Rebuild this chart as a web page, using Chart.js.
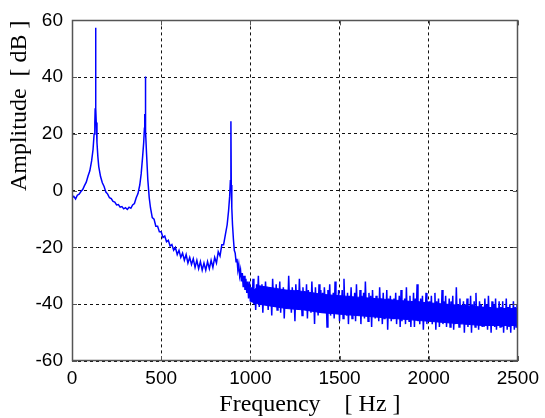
<!DOCTYPE html>
<html>
<head>
<meta charset="utf-8">
<script src="https://cdn.jsdelivr.net/npm/chart.js@4/dist/chart.umd.min.js"></script>
<style>
  html, body { margin: 0; padding: 0; background: #fff; }
  #wrap { width: 545px; height: 418px; }
</style>
</head>
<body>
<div id="wrap"><canvas id="chart-spectrum"></canvas></div>
<script>
// Amplitude spectrum, values
// 0 - 1000 Hz: the three resonance peaks
const lowFreq = [
  0, 10, 20, 30, 40, 50, 60, 70, 80, 90, 100, 110, 118, 124, 128, 130, 132, 133, 134, 136,
  140, 145, 150, 160, 170, 180, 190, 200, 210, 220, 230, 240, 250, 260, 270, 280, 290, 300,
  310, 320, 330, 340, 350, 360, 370, 380, 388, 396, 402, 406, 408, 410, 411, 412, 414, 418,
  425, 433, 440, 450, 460, 470, 480, 490, 500, 510, 520, 530, 540, 550, 560, 570, 580, 590,
  600, 610, 620, 630, 640, 650, 660, 670, 680, 690, 700, 710, 720, 730, 740, 750, 760, 770,
  780, 790, 800, 810, 820, 830, 840, 850, 860, 870, 878, 884, 888, 891, 893, 896, 900, 905,
  910, 915, 920, 925, 930, 935, 940, 945, 950, 955, 960, 965, 970, 975, 980, 985, 990, 995, 1000
];
const lowAmp = [
  -2.5, -2.0, -2.9, -1.6, -1.2, -0.3, 0.4, 1.8, 3.0, 5.2, 7.0, 10.5, 14.5, 20, 24, 29, 26, 57.4, 29, 24,
  17, 12, 8.5, 5, 2.8, 1.5, -0.5, -1.2, -2.5, -2.8, -3.8, -4, -5, -4.9, -5.8, -5.6, -6.4, -6,
  -6.6, -5.8, -6.2, -5, -4.5, -2.5, -1, 2, 6, 12, 17, 22, 27, 26, 40.2, 28, 21, 13,
  4, -2.5, -6, -9.5, -10, -12.5, -12.5, -14.5, -14.5, -16.5, -16, -18, -17.5, -19.5, -19, -21, -20, -22.5,
  -21, -23.5, -22, -24.5, -22.5, -25.5, -23.5, -26, -24, -27, -24.5, -27.5, -25, -28, -25.5, -28, -25, -27.5,
  -24.5, -27, -23.5, -25.5, -21.5, -23, -19, -19, -15.5, -12, -7, -2, 3.5, 24.5, 2, -6, -12, -17,
  -21, -22, -25, -24, -28, -26, -30, -28, -32, -29, -34, -30, -35, -31, -36, -32, -38, -32, -39
];

// 1000 - 2500 Hz: noise floor
const bandFreq = [
  1005, 1010, 1015, 1020, 1025, 1030, 1035, 1040, 1045, 1050, 1055, 1060, 1065, 1070, 1075, 1080, 1085, 1090, 1095, 1100,
  1105, 1110, 1115, 1120, 1125, 1130, 1135, 1140, 1145, 1150, 1155, 1160, 1165, 1170, 1175, 1180, 1185, 1190, 1195, 1200,
  1205, 1210, 1215, 1220, 1225, 1230, 1235, 1240, 1245, 1250, 1255, 1260, 1265, 1270, 1275, 1280, 1285, 1290, 1295, 1300,
  1305, 1310, 1315, 1320, 1325, 1330, 1335, 1340, 1345, 1350, 1355, 1360, 1365, 1370, 1375, 1380, 1385, 1390, 1395, 1400,
  1405, 1410, 1415, 1420, 1425, 1430, 1435, 1440, 1445, 1450, 1455, 1460, 1465, 1470, 1475, 1480, 1485, 1490, 1495, 1500,
  1505, 1510, 1515, 1520, 1525, 1530, 1535, 1540, 1545, 1550, 1555, 1560, 1565, 1570, 1575, 1580, 1585, 1590, 1595, 1600,
  1605, 1610, 1615, 1620, 1625, 1630, 1635, 1640, 1645, 1650, 1655, 1660, 1665, 1670, 1675, 1680, 1685, 1690, 1695, 1700,
  1705, 1710, 1715, 1720, 1725, 1730, 1735, 1740, 1745, 1750, 1755, 1760, 1765, 1770, 1775, 1780, 1785, 1790, 1795, 1800,
  1805, 1810, 1815, 1820, 1825, 1830, 1835, 1840, 1845, 1850, 1855, 1860, 1865, 1870, 1875, 1880, 1885, 1890, 1895, 1900,
  1905, 1910, 1915, 1920, 1925, 1930, 1935, 1940, 1945, 1950, 1955, 1960, 1965, 1970, 1975, 1980, 1985, 1990, 1995, 2000,
  2005, 2010, 2015, 2020, 2025, 2030, 2035, 2040, 2045, 2050, 2055, 2060, 2065, 2070, 2075, 2080, 2085, 2090, 2095, 2100,
  2105, 2110, 2115, 2120, 2125, 2130, 2135, 2140, 2145, 2150, 2155, 2160, 2165, 2170, 2175, 2180, 2185, 2190, 2195, 2200,
  2205, 2210, 2215, 2220, 2225, 2230, 2235, 2240, 2245, 2250, 2255, 2260, 2265, 2270, 2275, 2280, 2285, 2290, 2295, 2300,
  2305, 2310, 2315, 2320, 2325, 2330, 2335, 2340, 2345, 2350, 2355, 2360, 2365, 2370, 2375, 2380, 2385, 2390, 2395, 2400,
  2405, 2410, 2415, 2420, 2425, 2430, 2435, 2440, 2445, 2450, 2455, 2460, 2465, 2470, 2475, 2480, 2485, 2490, 2495, 2500
];
const bandAmp = [
  -34, -39, -31, -40, -35, -42, -33, -38, -30, -41, -36, -39, -33, -43, -35, -40, -32, -38, -36, -42,
  -34, -40, -35, -44, -31, -39, -36, -41, -33, -42, -37, -40, -32, -43, -35, -39, -34, -45, -36, -41,
  -35, -41, -30, -40, -36, -43, -34, -39, -37, -46, -33, -41, -35, -42, -31, -40, -36, -44, -34, -41,
  -36, -42, -33, -45, -35, -40, -37, -43, -32, -41, -36, -47, -34, -42, -37, -44, -33, -41, -35, -43,
  -36, -43, -34, -41, -37, -48, -35, -42, -33, -44, -38, -42, -36, -45, -32, -43, -37, -41, -35, -46,
  -37, -43, -35, -45, -31, -42, -38, -44, -36, -47, -37, -42, -34, -45, -38, -43, -36, -46, -33, -44,
  -38, -44, -35, -47, -37, -43, -36, -45, -32, -42, -38, -46, -36, -44, -37, -48, -35, -43, -38, -45,
  -37, -44, -39, -46, -34, -43, -38, -47, -36, -45, -39, -44, -35, -49, -38, -43, -37, -46, -39, -45,
  -38, -45, -36, -47, -39, -44, -37, -48, -35, -46, -39, -44, -38, -47, -34, -45, -39, -46, -37, -48,
  -39, -45, -36, -48, -38, -44, -33, -46, -39, -47, -38, -45, -37, -49, -40, -45, -36, -47, -39, -46,
  -39, -46, -37, -47, -40, -45, -36, -49, -39, -46, -38, -48, -40, -45, -35, -47, -39, -46, -37, -48,
  -40, -46, -38, -48, -39, -45, -37, -49, -41, -47, -34, -46, -40, -48, -38, -47, -41, -46, -39, -50,
  -40, -47, -38, -48, -41, -46, -37, -50, -40, -47, -39, -48, -36, -47, -41, -49, -39, -46, -40, -48,
  -41, -48, -38, -47, -40, -49, -37, -46, -41, -50, -39, -47, -40, -48, -38, -49, -42, -47, -39, -48,
  -41, -48, -39, -50, -42, -47, -38, -49, -41, -48, -40, -50, -42, -47, -39, -49, -41, -48, -40, -46
];

// solid core of the noise floor
const coreFreq = [1000, 1050, 1100, 1200, 1300, 1400, 1500, 1600, 1700, 1800, 1900, 2000, 2100, 2200, 2300, 2400, 2500];
const coreTop = [-36, -33.5, -34, -35, -35.5, -36.5, -37, -37.5, -38, -38.5, -39, -39.5, -40, -40.5, -41, -41.5, -41.5];
const coreBottom = [-39, -40, -40.5, -41.5, -42, -43, -43.5, -44, -44.5, -45, -45.5, -46, -46.5, -47, -47.5, -47.5, -47.5];

const xTicks = [0, 500, 1000, 1500, 2000, 2500];
const yTicks = [-60, -40, -20, 0, 20, 40, 60];

const BLUE = "#0000ff";
const TICK_FONT = { family: "'Liberation Sans', Arial, sans-serif", size: 19 };
const TITLE_FONT = { family: "'Liberation Serif', 'Times New Roman', serif", size: 24, lineHeight: 1 };

function toPoints(xs, ys) {
  return xs.map((x, i) => ({ x: x, y: ys[i] }));
}

// box round the plot and short inward ticks, like the original
const framePlugin = {
  id: "frame",
  afterDatasetsDraw(chart) {
    const { ctx, chartArea: a, scales } = chart;
    ctx.save();
    ctx.strokeStyle = "#555";
    ctx.lineWidth = 1;
    ctx.beginPath();
    xTicks.forEach((v) => {
      const px = Math.round(scales.x.getPixelForValue(v)) + 0.5;
      ctx.moveTo(px, a.bottom); ctx.lineTo(px, a.bottom - 5);
      ctx.moveTo(px, a.top); ctx.lineTo(px, a.top + 5);
    });
    yTicks.forEach((v) => {
      const py = Math.round(scales.y.getPixelForValue(v)) + 0.5;
      ctx.moveTo(a.left, py); ctx.lineTo(a.left + 5, py);
      ctx.moveTo(a.right, py); ctx.lineTo(a.right - 5, py);
    });
    ctx.stroke();
    ctx.lineWidth = 1.5;
    ctx.strokeRect(Math.round(a.left) + 0.5, Math.round(a.top) + 0.5,
      Math.round(a.right - a.left) - 1, Math.round(a.bottom - a.top) - 1);
    ctx.restore();
  }
};

new Chart(document.getElementById("chart-spectrum"), {
  type: "line",
  data: {
    datasets: [
      {
        label: "Spectrum",
        data: toPoints(lowFreq.concat(bandFreq), lowAmp.concat(bandAmp)),
        borderColor: BLUE,
        borderWidth: 1.5,
        pointRadius: 0,
        tension: 0,
        fill: false
      },
      {
        label: "core top",
        data: toPoints(coreFreq, coreTop),
        borderColor: BLUE,
        borderWidth: 1,
        pointRadius: 0,
        fill: false
      },
      {
        label: "core bottom",
        data: toPoints(coreFreq, coreBottom),
        borderColor: BLUE,
        backgroundColor: BLUE,
        borderWidth: 1,
        pointRadius: 0,
        fill: "-1"
      }
    ]
  },
  options: {
    responsive: true,
    maintainAspectRatio: false,
    animation: false,
    layout: { padding: { left: 0, top: 19, right: 23.5, bottom: 0 } },
    plugins: {
      legend: { display: false },
      tooltip: { enabled: false }
    },
    scales: {
      x: {
        type: "linear",
        min: xTicks[0],
        max: xTicks[xTicks.length - 1],
        afterFit: (s) => { s.height = 57; },
        ticks: { stepSize: 500, font: TICK_FONT, color: "#000", padding: 6, maxRotation: 0, callback: (v) => String(v) },
        grid: { color: "#111", drawTicks: false },
        border: { display: false, dash: [3, 3] },
        title: { display: true, text: "     Frequency    [ Hz ]", font: TITLE_FONT, color: "#000", padding: { top: 0, bottom: 1 } }
      },
      y: {
        min: yTicks[0],
        max: yTicks[yTicks.length - 1],
        afterFit: (s) => { s.width = 72; },
        ticks: { stepSize: 20, font: TICK_FONT, color: "#000", padding: 9 },
        grid: { color: "#111", drawTicks: false },
        border: { display: false, dash: [3, 3] },
        title: { display: true, text: "Amplitude  [ dB ]", align: "end", font: TITLE_FONT, color: "#000", padding: { top: 8, bottom: 0 } }
      }
    }
  },
  plugins: [framePlugin]
});
</script>
</body>
</html>
